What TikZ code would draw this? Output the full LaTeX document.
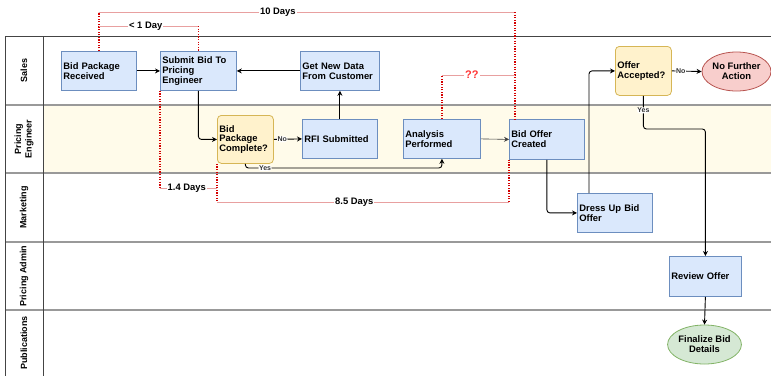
\documentclass[tikz,border=0pt]{standalone}
\usepackage{fontspec}
\setmainfont{Liberation Sans}
\usetikzlibrary{arrows.meta,shapes.geometric,calc}
\definecolor{bfill}{HTML}{DAE8FC}
\definecolor{bdraw}{HTML}{6C8EBF}
\definecolor{yfill}{HTML}{FFF2CC}
\definecolor{ydraw}{HTML}{D6B656}
\definecolor{rfill}{HTML}{F8CECC}
\definecolor{rdraw}{HTML}{B85450}
\definecolor{gfill}{HTML}{D5E8D4}
\definecolor{gdraw}{HTML}{82B366}
\definecolor{lanefill}{HTML}{FFFBEA}
\definecolor{dotred}{HTML}{D40000}
\definecolor{pinkline}{HTML}{E8A0A0}
\definecolor{qred}{HTML}{FF3333}
\definecolor{lanegray}{HTML}{999999}
\definecolor{vgray}{HTML}{444444}
\begin{document}
\begin{tikzpicture}[x=1pt,y=-1pt,
  nfont/.style={font=\fontsize{9.4}{9.8}\selectfont\bfseries},
  task/.style={nfont, draw=bdraw, fill=bfill, line width=0.8pt, inner xsep=2pt, inner ysep=0pt, align=left, anchor=north west},
  decision/.style={task, draw=ydraw, fill=yfill, rounded corners=4pt},
  terminal/.style={nfont, ellipse, line width=0.8pt, inner sep=0pt, align=center, minimum width=69pt, minimum height=39pt},
  lanelab/.style={font=\fontsize{9}{10.5}\selectfont\bfseries, rotate=90, align=center},
  flow/.style={line width=0.9pt, -{Stealth[length=5pt,width=5pt]}, rounded corners=3pt},
  elabel/.style={font=\fontsize{7}{7}\selectfont\bfseries, fill=white, inner sep=0.6pt, text=black!80},
  dots/.style={dotred, line width=1.3pt, dash pattern=on 1.2pt off 1.4pt},
  pinkln/.style={pinkline, line width=0.7pt},
  tlabel/.style={nfont, fill=white, text=black, inner xsep=1pt, inner ysep=0.6pt},
]
\useasboundingbox (0,0) rectangle (771,376);

% lanes
\fill[lanefill] (43,105) rectangle (771,173);
\draw[vgray, line width=1pt] (5,36) -- (771,36);
\foreach \yy in {105,173,242,310} {\draw[lanegray, line width=1.2pt] (5,\yy) -- (771,\yy);}
\draw[vgray, line width=1pt] (5,36) -- (5,376);
\draw[vgray, line width=1pt] (43,36) -- (43,376);

\node[lanelab] (lsales) at (24,70.5) {Sales};
\node[lanelab] (lpe) at (24,139) {Pricing\\Engineer};
\node[lanelab] (lmkt) at (24,207.5) {Marketing};
\node[lanelab] (ladm) at (24,276) {Pricing Admin};
\node[lanelab] (lpub) at (24,343) {Publications};

% nodes
\node[task, text width=71pt, minimum height=39pt] (bpr) at (61,51) {Bid Package\\Received};
\node[task, text width=72pt, minimum height=39pt] (sbt) at (160,51) {Submit Bid To\\Pricing\\Engineer};
\node[task, text width=75pt, minimum height=39pt] (gnd) at (300,51) {Get New Data\\From Customer};
\node[decision, text width=52pt, minimum height=48pt] (bpc) at (217,115) {Bid\\Package\\Complete?};
\node[task, text width=71pt, minimum height=39pt] (rfi) at (302,119) {RFI Submitted};
\node[task, text width=73pt, minimum height=39pt] (anl) at (403,119) {Analysis\\Performed};
\node[task, text width=71pt, minimum height=40pt] (boc) at (509,119) {Bid Offer\\Created};
\node[task, text width=71pt, minimum height=39pt] (dub) at (577,193) {Dress Up Bid\\Offer};
\node[decision, text width=52pt, minimum height=49pt] (oa) at (615,46) {Offer\\Accepted?};
\node[terminal, draw=rdraw, fill=rfill] (nfa) at (736.5,71.5) {No Further\\Action};
\node[task, text width=68pt, minimum height=40pt] (rev) at (669,256) {Review Offer};
\node[terminal, draw=gdraw, fill=gfill] (fin) at (704.5,344.5) {Finalize Bid\\Details};

% timing brackets
\coordinate (t10a) at (bpr.north |- 0,12);
\coordinate (t10b) at (515,12);
\coordinate (t10c) at ([xshift=6pt]boc.north west);
\coordinate (t1a) at (bpr.north |- 0,26);
\coordinate (t1b) at (sbt.north |- 0,26);
\coordinate (d14a) at (sbt.south west |- 0,188);
\coordinate (d14b) at (bpc.south west |- 0,188);
\coordinate (d85a) at (bpc.south west |- 0,202);
\coordinate (d85b) at (boc.south west |- 0,202);
\coordinate (qa) at (anl.north |- 0,75);
\coordinate (qb) at (515,75);

\draw[dots] (bpr.north) -- (t10a);
\draw[pinkln] (t10a) -- node[tlabel, pos=0.43] (l10) {10 Days} (t10b);
\draw[dots] (t10b) -- (t10c);
\draw[pinkln] (t1a) -- node[tlabel, pos=0.47] (l1) {< 1 Day} (t1b);
\draw[dots] (t1b) -- (sbt.north);
\draw[dots] (sbt.south west) -- (d14a);
\draw[pinkln] (d14a) -- node[tlabel, pos=0.47] (l14) {1.4 Days} (d14b);
\draw[dots] (bpc.south west) -- (d85a);
\draw[pinkln] (d85a) -- node[tlabel, pos=0.47] (l85) {8.5 Days} (d85b);
\draw[dots] (d85b) -- (boc.south west);
\draw[dots] (anl.north) -- (qa);
\draw[pinkln] (qa) -- node[tlabel, pos=0.41, text=qred, font=\fontsize{11}{11}\selectfont\bfseries] (lq) {??} (qb);

% flows
\draw[flow] (bpr.east) -- (sbt.west);
\draw[flow] (gnd.west) -- (sbt.east);
\draw[flow] (sbt.south) |- (bpc.west);
\draw[flow] (bpc.east) -- node[elabel, pos=0.3] (lno1) {No} (rfi.west);
\draw[flow] (rfi.north) -- (gnd.south);
\coordinate (ya) at (anl.south |- 0,168);
\draw[flow] (bpc.south) |- node[elabel, pos=0.55] (lyes1) {Yes} (ya) -- (anl.south);
\draw[flow, line width=0.6pt, black!75] (anl.east) -- (boc.west);
\draw[flow] (boc.south) |- (dub.west);
\coordinate (du) at ([xshift=12pt]dub.north west);
\draw[flow] (du) |- (oa.west);
\draw[flow] (oa.east) -- node[elabel, pos=0.3] (lno2) {No} (nfa.west);
\coordinate (oy) at (oa.south |- 0,129);
\draw[flow] (oa.south) -- node[elabel, pos=0.44] (lyes2) {Yes} (oy) -| (rev.north);
\draw[flow] (rev.south) -- (fin.north);
\end{tikzpicture}
\end{document}
